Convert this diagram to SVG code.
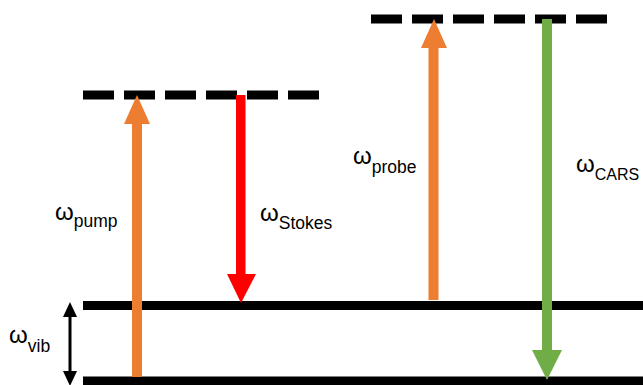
<svg xmlns="http://www.w3.org/2000/svg" width="643" height="385" viewBox="0 0 643 385">
  <style>
    .level { stroke: #000; stroke-width: 9; fill: none; }
    .virtual { stroke: #000; stroke-width: 9; stroke-dasharray: 31 10; fill: none; }
    .lbl { font-family: "Liberation Sans", "DejaVu Sans", sans-serif; fill: #000; }
    .w { font-size: 24px; }
    .sub { font-size: 17.5px; }
    .sub-narrow { font-size: 16px; }
  </style>
  <rect width="643" height="385" fill="#fff"/>

  <!-- energy levels -->
  <g id="levels">
    <line class="level" x1="83" y1="305.5" x2="643" y2="305.5"/>
    <line class="level" x1="83" y1="381" x2="643" y2="381"/>
    <line class="virtual" x1="83" y1="95" x2="319" y2="95"/>
    <line class="virtual" x1="371" y1="19" x2="607" y2="19"/>
  </g>

  <!-- transitions -->
  <g id="connectors">
    <g id="pump">
      <rect x="132" y="122" width="10" height="255" fill="#ED7D31"/>
      <polygon points="137,95 124,124 150,124" fill="#ED7D31"/>
    </g>
    <g id="stokes">
      <rect x="236" y="95" width="9.5" height="181" fill="#FF0000"/>
      <polygon points="241,303 227,274 256,274" fill="#FF0000"/>
    </g>
    <g id="probe">
      <rect x="428.5" y="46" width="10" height="254" fill="#ED7D31"/>
      <polygon points="434,19 421,48 447,48" fill="#ED7D31"/>
    </g>
    <g id="cars">
      <rect x="542" y="19" width="10" height="333" fill="#70AD47"/>
      <polygon points="547,380 532,350 562,350" fill="#70AD47"/>
    </g>
    <g id="vib">
      <rect x="68.5" y="314" width="3" height="60" fill="#000"/>
      <polygon points="70,302 63,317 77,317" fill="#000"/>
      <polygon points="70,386 63,371 77,371" fill="#000"/>
    </g>
  </g>

  <!-- labels -->
  <g id="labels">
    <text class="lbl" x="55" y="220"><tspan class="w">ω</tspan><tspan class="sub" dy="7">pump</tspan></text>
    <text class="lbl" x="260" y="221"><tspan class="w">ω</tspan><tspan class="sub" dy="8">Stokes</tspan></text>
    <text class="lbl" x="353" y="164"><tspan class="w">ω</tspan><tspan class="sub" dy="9">probe</tspan></text>
    <text class="lbl" x="576" y="172"><tspan class="w">ω</tspan><tspan class="sub-narrow" dy="8">CARS</tspan></text>
    <text class="lbl" x="9" y="343"><tspan class="w">ω</tspan><tspan class="sub" dy="9">vib</tspan></text>
  </g>
</svg>
